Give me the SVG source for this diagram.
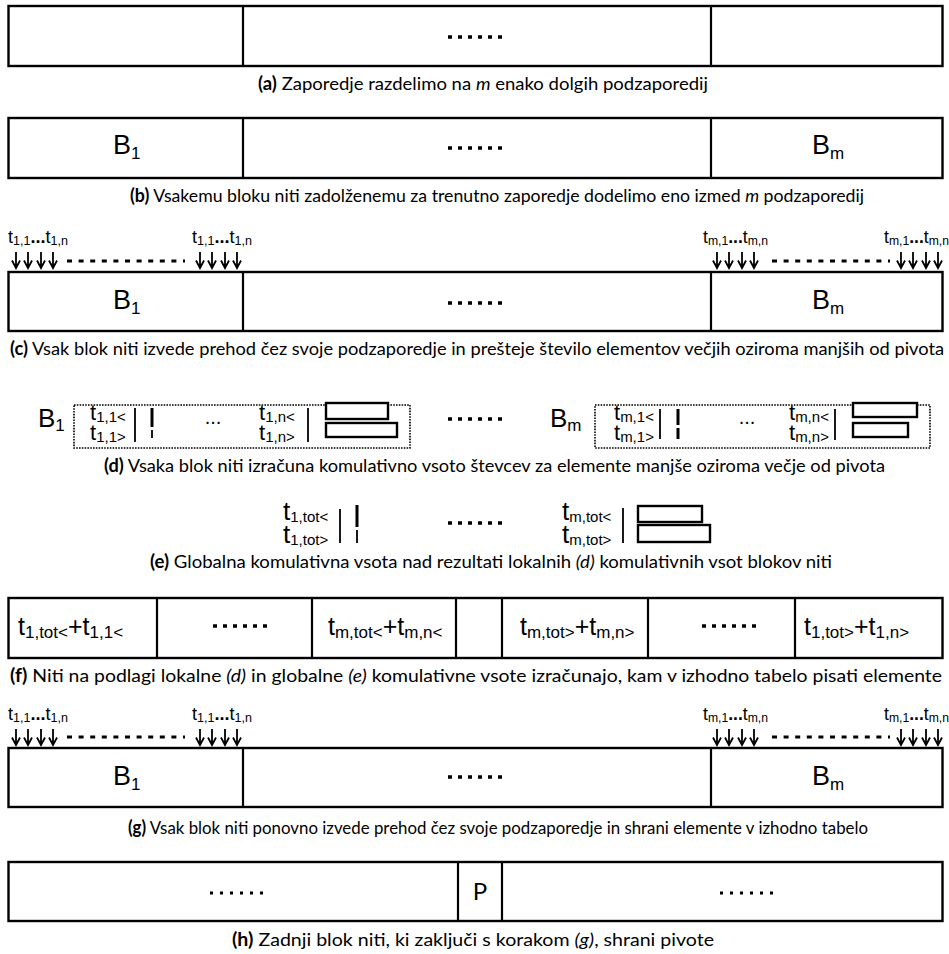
<svg xmlns="http://www.w3.org/2000/svg" xmlns:xlink="http://www.w3.org/1999/xlink" width="949" height="954" viewBox="0 0 949 954">
<style>
.box{fill:#fff;stroke:#000;stroke-width:2.4}
.ln{stroke:#000;stroke-width:2.2;fill:none}
.thin{stroke:#000;stroke-width:1.8;fill:none}
.bar{stroke:#000;stroke-width:3;fill:none}
.dots{stroke:#000;stroke-width:3.5;stroke-dasharray:4 6;fill:none}
.dash{stroke:#000;stroke-width:3;stroke-dasharray:5 6.6;fill:none}
.dbox{fill:none;stroke:#000;stroke-width:1.6;stroke-dasharray:1.6 1.2}
.cap{font-family:Lato,"Open Sans","Liberation Sans",sans-serif;font-size:18px;fill:#000}
.ar{font-family:"Liberation Sans",Arial,sans-serif;fill:#000}
.b{font-weight:bold}
.i{font-style:italic}
</style>
<defs>
<path id="arw" d="M0,0 V16 M-4,8.5 L0,16 L4,8.5" fill="none" stroke="#000" stroke-width="1.8"/>
</defs>
<rect width="949" height="954" fill="#fff"/>

<!-- (a) -->
<g id="step-a">
<rect class="box" x="8.5" y="6" width="934" height="60"/>
<line class="ln" x1="243" y1="6" x2="243" y2="66"/>
<line class="ln" x1="711" y1="6" x2="711" y2="66"/>
<line class="dots" x1="448" y1="37" x2="504" y2="37"/>
<text class="cap" x="258" y="90" textLength="450" lengthAdjust="spacingAndGlyphs"><tspan class="b">(a)</tspan> Zaporedje razdelimo na <tspan class="i">m</tspan> enako dolgih podzaporedij</text>
</g>

<!-- (b) -->
<g id="step-b">
<rect class="box" x="8.5" y="118" width="934" height="60"/>
<line class="ln" x1="243" y1="118" x2="243" y2="178"/>
<line class="ln" x1="711" y1="118" x2="711" y2="178"/>
<line class="dots" x1="448" y1="148" x2="504" y2="148"/>
<text class="ar" x="113" y="154" font-size="27">B<tspan font-size="17" dy="5">1</tspan></text>
<text class="ar" x="812" y="154" font-size="27">B<tspan font-size="17" dy="5">m</tspan></text>
<text class="cap" x="130" y="202" textLength="734" lengthAdjust="spacingAndGlyphs"><tspan class="b">(b)</tspan> Vsakemu bloku niti zadolženemu za trenutno zaporedje dodelimo eno izmed <tspan class="i">m</tspan> podzaporedij</text>
</g>

<!-- (c) -->
<g id="step-c">
<rect class="box" x="8.5" y="272" width="934" height="59"/>
<line class="ln" x1="243" y1="272" x2="243" y2="331"/>
<line class="ln" x1="711" y1="272" x2="711" y2="331"/>
<line class="dots" x1="448" y1="303" x2="504" y2="303"/>
<text class="ar" x="113" y="309" font-size="27">B<tspan font-size="17" dy="5">1</tspan></text>
<text class="ar" x="812" y="309" font-size="27">B<tspan font-size="17" dy="5">m</tspan></text>
<text class="ar" x="8" y="243" font-size="18" textLength="60" lengthAdjust="spacingAndGlyphs">t<tspan font-size="12.5" dy="2">1,1</tspan><tspan class="b" dy="-2">...</tspan>t<tspan font-size="12.5" dy="2">1,n</tspan></text>
<text class="ar" x="192" y="243" font-size="18" textLength="60" lengthAdjust="spacingAndGlyphs">t<tspan font-size="12.5" dy="2">1,1</tspan><tspan class="b" dy="-2">...</tspan>t<tspan font-size="12.5" dy="2">1,n</tspan></text>
<text class="ar" x="703" y="243" font-size="18" textLength="65" lengthAdjust="spacingAndGlyphs">t<tspan font-size="12.5" dy="2">m,1</tspan><tspan class="b" dy="-2">...</tspan>t<tspan font-size="12.5" dy="2">m,n</tspan></text>
<text class="ar" x="884" y="243" font-size="18" textLength="65" lengthAdjust="spacingAndGlyphs">t<tspan font-size="12.5" dy="2">m,1</tspan><tspan class="b" dy="-2">...</tspan>t<tspan font-size="12.5" dy="2">m,n</tspan></text>
<text class="cap" x="10" y="355" textLength="934" lengthAdjust="spacingAndGlyphs"><tspan class="b">(c)</tspan> Vsak blok niti izvede prehod čez svoje podzaporedje in prešteje število elementov večjih oziroma manjših od pivota</text>
</g>

<!-- (d) -->
<g id="step-d">
<text class="ar" x="38" y="427" font-size="26">B<tspan font-size="17" dy="4">1</tspan></text>
<rect class="dbox" x="74" y="405" width="336" height="43"/>
<text class="ar" x="90" y="420" font-size="22">t<tspan font-size="15" dy="1.5">1,1&lt;</tspan></text>
<text class="ar" x="90" y="440" font-size="22">t<tspan font-size="15" dy="1.5">1,1&gt;</tspan></text>
<line class="thin" x1="135" y1="408" x2="135" y2="442"/>
<line class="bar" x1="152" y1="408" x2="152" y2="427"/>
<line class="thin" x1="152" y1="430" x2="152" y2="438"/>
<text class="ar" x="213" y="424" font-size="20" text-anchor="middle">...</text>
<text class="ar" x="259" y="420" font-size="22">t<tspan font-size="15" dy="1.5">1,n&lt;</tspan></text>
<text class="ar" x="259" y="440" font-size="22">t<tspan font-size="15" dy="1.5">1,n&gt;</tspan></text>
<line class="thin" x1="308" y1="408" x2="308" y2="442"/>
<rect class="box" x="326" y="403" width="62" height="16"/>
<rect class="box" x="326" y="423" width="71" height="14"/>

<line class="dots" x1="448" y1="419" x2="504" y2="419"/>

<text class="ar" x="550" y="427" font-size="26">B<tspan font-size="17" dy="4">m</tspan></text>
<rect class="dbox" x="595" y="405" width="335" height="43"/>
<text class="ar" x="614" y="420" font-size="22">t<tspan font-size="15" dy="1.5">m,1&lt;</tspan></text>
<text class="ar" x="614" y="440" font-size="22">t<tspan font-size="15" dy="1.5">m,1&gt;</tspan></text>
<line class="thin" x1="660" y1="409" x2="660" y2="439"/>
<line class="bar" x1="678" y1="409" x2="678" y2="425"/>
<line class="bar" x1="678" y1="428" x2="678" y2="439"/>
<text class="ar" x="747" y="424" font-size="20" text-anchor="middle">...</text>
<text class="ar" x="789" y="420" font-size="22">t<tspan font-size="15" dy="1.5">m,n&lt;</tspan></text>
<text class="ar" x="789" y="440" font-size="22">t<tspan font-size="15" dy="1.5">m,n&gt;</tspan></text>
<line class="thin" x1="835" y1="409" x2="835" y2="440"/>
<rect class="box" x="853" y="403" width="64" height="14"/>
<rect class="box" x="853" y="423" width="55" height="14"/>
<text class="cap" x="104" y="472" textLength="781" lengthAdjust="spacingAndGlyphs"><tspan class="b">(d)</tspan> Vsaka blok niti izračuna komulativno vsoto števcev za elemente manjše oziroma večje od pivota</text>
</g>

<!-- (e) -->
<g id="step-e">
<text class="ar" x="283" y="520" font-size="26">t<tspan font-size="15" dy="1.5">1,tot&lt;</tspan></text>
<text class="ar" x="283" y="543" font-size="26">t<tspan font-size="15" dy="1.5">1,tot&gt;</tspan></text>
<line class="thin" x1="340" y1="509" x2="340" y2="543"/>
<line class="bar" x1="357" y1="505" x2="357" y2="527"/>
<line class="thin" x1="357" y1="530" x2="357" y2="543"/>
<line class="dots" x1="448" y1="523" x2="504" y2="523"/>
<text class="ar" x="562" y="520" font-size="26">t<tspan font-size="15" dy="1.5">m,tot&lt;</tspan></text>
<text class="ar" x="562" y="543" font-size="26">t<tspan font-size="15" dy="1.5">m,tot&gt;</tspan></text>
<line class="thin" x1="623" y1="508" x2="623" y2="543"/>
<rect class="box" x="638" y="506" width="64" height="16"/>
<rect class="box" x="638" y="525" width="72" height="17"/>
<text class="cap" x="150" y="568" textLength="682" lengthAdjust="spacingAndGlyphs"><tspan class="b">(e)</tspan> Globalna komulativna vsota nad rezultati lokalnih <tspan class="i">(d)</tspan> komulativnih vsot blokov niti</text>
</g>

<!-- (f) -->
<g id="step-f">
<rect class="box" x="8.5" y="598" width="934" height="60"/>
<line class="ln" x1="157" y1="598" x2="157" y2="658"/>
<line class="ln" x1="312" y1="598" x2="312" y2="658"/>
<line class="ln" x1="456" y1="598" x2="456" y2="658"/>
<line class="ln" x1="502" y1="598" x2="502" y2="658"/>
<line class="ln" x1="648" y1="598" x2="648" y2="658"/>
<line class="ln" x1="795" y1="598" x2="795" y2="658"/>
<text class="ar" x="18" y="635" font-size="25">t<tspan font-size="17" dy="3">1,tot&lt;</tspan><tspan dy="-3">+t</tspan><tspan font-size="17" dy="3">1,1&lt;</tspan></text>
<line class="dots" x1="213" y1="626" x2="269" y2="626"/>
<text class="ar" x="328" y="635" font-size="25">t<tspan font-size="17" dy="3">m,tot&lt;</tspan><tspan dy="-3">+t</tspan><tspan font-size="17" dy="3">m,n&lt;</tspan></text>
<text class="ar" x="520" y="635" font-size="25">t<tspan font-size="17" dy="3">m,tot&gt;</tspan><tspan dy="-3">+t</tspan><tspan font-size="17" dy="3">m,n&gt;</tspan></text>
<line class="dots" x1="702" y1="626" x2="758" y2="626"/>
<text class="ar" x="804" y="635" font-size="25">t<tspan font-size="17" dy="3">1,tot&gt;</tspan><tspan dy="-3">+t</tspan><tspan font-size="17" dy="3">1,n&gt;</tspan></text>
<text class="cap" x="10" y="682" textLength="932" lengthAdjust="spacingAndGlyphs"><tspan class="b">(f)</tspan> Niti na podlagi lokalne <tspan class="i">(d)</tspan> in globalne <tspan class="i">(e)</tspan> komulativne vsote izračunajo, kam v izhodno tabelo pisati elemente</text>
</g>

<!-- (g) -->
<g id="step-g">
<rect class="box" x="8.5" y="748" width="934" height="59"/>
<line class="ln" x1="243" y1="748" x2="243" y2="807"/>
<line class="ln" x1="711" y1="748" x2="711" y2="807"/>
<line class="dots" x1="448" y1="777" x2="504" y2="777"/>
<text class="ar" x="113" y="785" font-size="27">B<tspan font-size="17" dy="5">1</tspan></text>
<text class="ar" x="812" y="785" font-size="27">B<tspan font-size="17" dy="5">m</tspan></text>
<text class="ar" x="8" y="720" font-size="18" textLength="60" lengthAdjust="spacingAndGlyphs">t<tspan font-size="12.5" dy="2">1,1</tspan><tspan class="b" dy="-2">...</tspan>t<tspan font-size="12.5" dy="2">1,n</tspan></text>
<text class="ar" x="192" y="720" font-size="18" textLength="60" lengthAdjust="spacingAndGlyphs">t<tspan font-size="12.5" dy="2">1,1</tspan><tspan class="b" dy="-2">...</tspan>t<tspan font-size="12.5" dy="2">1,n</tspan></text>
<text class="ar" x="703" y="720" font-size="18" textLength="65" lengthAdjust="spacingAndGlyphs">t<tspan font-size="12.5" dy="2">m,1</tspan><tspan class="b" dy="-2">...</tspan>t<tspan font-size="12.5" dy="2">m,n</tspan></text>
<text class="ar" x="884" y="720" font-size="18" textLength="65" lengthAdjust="spacingAndGlyphs">t<tspan font-size="12.5" dy="2">m,1</tspan><tspan class="b" dy="-2">...</tspan>t<tspan font-size="12.5" dy="2">m,n</tspan></text>
<text class="cap" x="128" y="834" textLength="740" lengthAdjust="spacingAndGlyphs"><tspan class="b">(g)</tspan> Vsak blok niti ponovno izvede prehod čez svoje podzaporedje in shrani elemente v izhodno tabelo</text>
</g>

<!-- (h) -->
<g id="step-h">
<rect class="box" x="8.5" y="862" width="934" height="59"/>
<line class="ln" x1="458" y1="862" x2="458" y2="921"/>
<line class="ln" x1="502" y1="862" x2="502" y2="921"/>
<line class="dots" x1="210" y1="893" x2="266" y2="893" style="stroke-width:3;stroke-dasharray:3 7"/>
<line class="dots" x1="720" y1="893" x2="776" y2="893" style="stroke-width:3;stroke-dasharray:3 7"/>
<text class="cap" x="480" y="900" text-anchor="middle" style="font-size:24px">P</text>
<text class="cap" x="232" y="946" textLength="482" lengthAdjust="spacingAndGlyphs"><tspan class="b">(h)</tspan> Zadnji blok niti, ki zaključi s korakom <tspan class="i">(g)</tspan>, shrani pivote</text>
</g>

<!-- connectors: thread arrows -->
<g id="connectors">
<use xlink:href="#arw" x="16" y="252"/><use xlink:href="#arw" x="28" y="252"/><use xlink:href="#arw" x="41" y="252"/><use xlink:href="#arw" x="53" y="252"/>
<line class="dash" x1="67" y1="261" x2="185" y2="261"/>
<use xlink:href="#arw" x="200" y="252"/><use xlink:href="#arw" x="212" y="252"/><use xlink:href="#arw" x="225" y="252"/><use xlink:href="#arw" x="237" y="252"/>
<use xlink:href="#arw" x="717" y="252"/><use xlink:href="#arw" x="729" y="252"/><use xlink:href="#arw" x="742" y="252"/><use xlink:href="#arw" x="754" y="252"/>
<line class="dash" x1="772" y1="261" x2="890" y2="261"/>
<use xlink:href="#arw" x="901" y="252"/><use xlink:href="#arw" x="913" y="252"/><use xlink:href="#arw" x="926" y="252"/><use xlink:href="#arw" x="938" y="252"/>

<use xlink:href="#arw" x="16" y="729"/><use xlink:href="#arw" x="28" y="729"/><use xlink:href="#arw" x="41" y="729"/><use xlink:href="#arw" x="53" y="729"/>
<line class="dash" x1="67" y1="737" x2="185" y2="737"/>
<use xlink:href="#arw" x="200" y="729"/><use xlink:href="#arw" x="212" y="729"/><use xlink:href="#arw" x="225" y="729"/><use xlink:href="#arw" x="237" y="729"/>
<use xlink:href="#arw" x="717" y="729"/><use xlink:href="#arw" x="729" y="729"/><use xlink:href="#arw" x="742" y="729"/><use xlink:href="#arw" x="754" y="729"/>
<line class="dash" x1="772" y1="737" x2="890" y2="737"/>
<use xlink:href="#arw" x="901" y="729"/><use xlink:href="#arw" x="913" y="729"/><use xlink:href="#arw" x="926" y="729"/><use xlink:href="#arw" x="938" y="729"/>
</g>
</svg>
